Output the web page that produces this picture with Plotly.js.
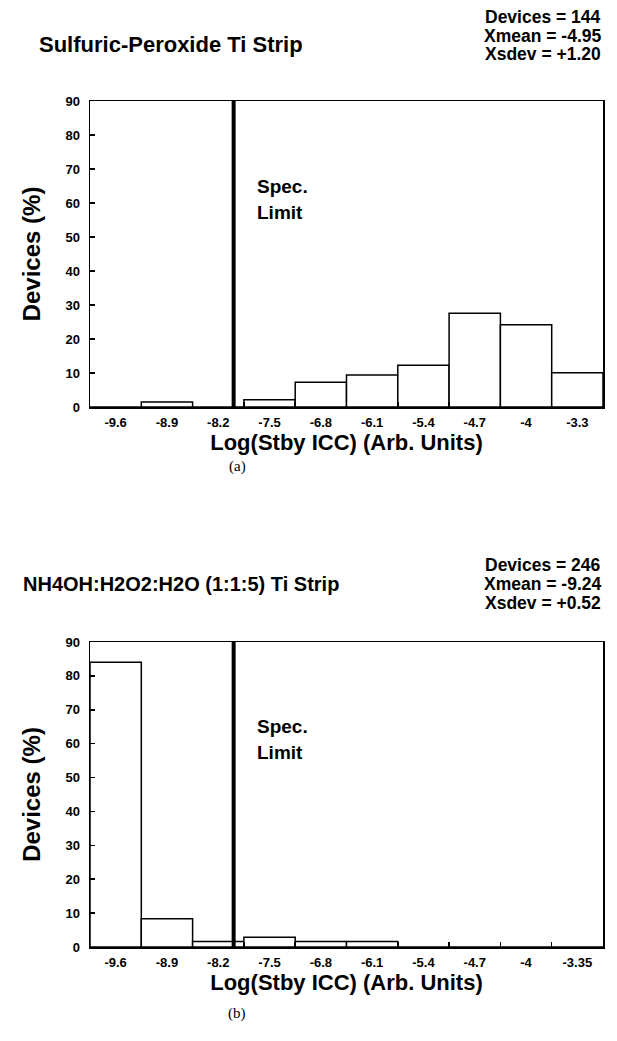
<!DOCTYPE html>
<html>
<head>
<meta charset="utf-8">
<script src="https://cdn.plot.ly/plotly-3.0.1.min.js"></script>
<style>html,body{margin:0;padding:0;background:#fff;}#chart{width:617px;height:1041px;}</style>
</head>
<body>
<div id="chart"></div>
<script>
// ---- data ----
const categoriesA = ['-9.6','-8.9','-8.2','-7.5','-6.8','-6.1','-5.4','-4.7','-4','-3.3'];
const valuesA = [0, 1.5, 0, 2.1, 7.3, 9.4, 12.3, 27.6, 24.2, 10.1];
const categoriesB = ['-9.6','-8.9','-8.2','-7.5','-6.8','-6.1','-5.4','-4.7','-4','-3.35'];
const valuesB = [84, 8.3, 1.6, 2.9, 1.6, 1.6, 0, 0, 0, 0];
const titleA = 'Sulfuric-Peroxide Ti Strip';
const titleB = 'NH4OH:H2O2:H2O (1:1:5) Ti Strip';
const statsA = ['Devices = 144', 'Xmean = -4.95', 'Xsdev = +1.20'];
const statsB = ['Devices = 246', 'Xmean = -9.24', 'Xsdev = +0.52'];
const specLimitPos = 2.3;   // category-index position of the spec limit line
const xTitle = 'Log(Stby ICC) (Arb. Units)';
const yTitle = 'Devices (%)';

const W = 617, H = 1041;
const FONT = 'Liberation Sans, Arial, Helvetica, sans-serif';
const px = v => v / W;
const py = v => 1 - v / H;

const barStyle = {color: '#ffffff', line: {color: '#000000', width: 1.5}};
const traces = [
  {type: 'bar', x: categoriesA, y: valuesA, xaxis: 'x', yaxis: 'y', marker: barStyle, hoverinfo: 'x+y'},
  {type: 'bar', x: categoriesB, y: valuesB, xaxis: 'x2', yaxis: 'y2', marker: barStyle, hoverinfo: 'x+y'}
];

function xax(anchor) {
  return {
    anchor: anchor, domain: [px(90), px(603)], type: 'category', range: [-0.5, 9.5],
    tickson: 'boundaries', ticks: 'inside', ticklen: 5, tickwidth: 1.5, tickcolor: '#000',
    showline: true, linecolor: '#000', linewidth: 1.5, mirror: true,
    showgrid: false, zeroline: false, automargin: false, ticklabelstandoff: 3,
    tickfont: {family: FONT, size: 13, color: '#000', weight: 'bold'},
    title: {text: xTitle, standoff: 2, font: {family: FONT, size: 22, color: '#000', weight: 'bold'}}
  };
}
function yax(anchor, d) {
  return {
    anchor: anchor, domain: d, range: [0, 90], dtick: 10, tick0: 0,
    ticks: 'inside', ticklen: 5, tickwidth: 1.5, tickcolor: '#000',
    showline: true, linecolor: '#000', linewidth: 1.5, mirror: true,
    showgrid: false, zeroline: false, automargin: false, ticklabelstandoff: 6,
    tickfont: {family: FONT, size: 13, color: '#000', weight: 'bold'},
    title: {text: yTitle, standoff: 18, font: {family: FONT, size: 24, color: '#000', weight: 'bold'}}
  };
}

function txt(text, x, y, size, opts) {
  return Object.assign({
    text: text, xref: 'paper', yref: 'paper', x: x, y: y, showarrow: false,
    xanchor: 'center', yanchor: 'middle',
    font: {family: FONT, size: size, color: '#000', weight: 'bold'}
  }, opts || {});
}

const serif = {family: 'Liberation Serif, Times New Roman, serif', size: 15, color: '#000'};
const annotations = [
  txt(titleA, px(171), py(45), 22),
  txt(titleB, px(181), py(584), 20),
  txt(statsA[0], px(603), py(17), 17.5, {xanchor: 'right'}),
  txt(statsA[1], px(603), py(36), 17.5, {xanchor: 'right'}),
  txt(statsA[2], px(603), py(54), 17.5, {xanchor: 'right'}),
  txt(statsB[0], px(603), py(565), 17.5, {xanchor: 'right'}),
  txt(statsB[1], px(603), py(584), 17.5, {xanchor: 'right'}),
  txt(statsB[2], px(603), py(603), 17.5, {xanchor: 'right'}),
  txt('Spec.', 2.72, 65, 19, {xref: 'x', yref: 'y', xanchor: 'left'}),
  txt('Limit', 2.72, 57.3, 19, {xref: 'x', yref: 'y', xanchor: 'left'}),
  txt('Spec.', 2.72, 65, 19, {xref: 'x2', yref: 'y2', xanchor: 'left'}),
  txt('Limit', 2.72, 57.3, 19, {xref: 'x2', yref: 'y2', xanchor: 'left'}),
  txt('(a)', px(237), py(467), 15, {font: serif}),
  txt('(b)', px(237), py(1013), 15, {font: serif})
];

const shapes = [
  {type: 'line', xref: 'x', yref: 'y domain', x0: specLimitPos, x1: specLimitPos, y0: 0, y1: 1, line: {color: '#000', width: 4}},
  {type: 'line', xref: 'x2', yref: 'y2 domain', x0: specLimitPos, x1: specLimitPos, y0: 0, y1: 1, line: {color: '#000', width: 4}}
];

const layout = {
  width: W, height: H, margin: {l: 0, r: 0, t: 0, b: 0},
  paper_bgcolor: '#fff', plot_bgcolor: '#fff', showlegend: false,
  bargap: 0,
  xaxis: xax('y'), yaxis: yax('x', [py(407), py(101)]),
  xaxis2: xax('y2'), yaxis2: yax('x2', [py(947), py(642)]),
  annotations: annotations, shapes: shapes
};

Plotly.newPlot('chart', traces, layout, {staticPlot: true});
</script>
</body>
</html>
